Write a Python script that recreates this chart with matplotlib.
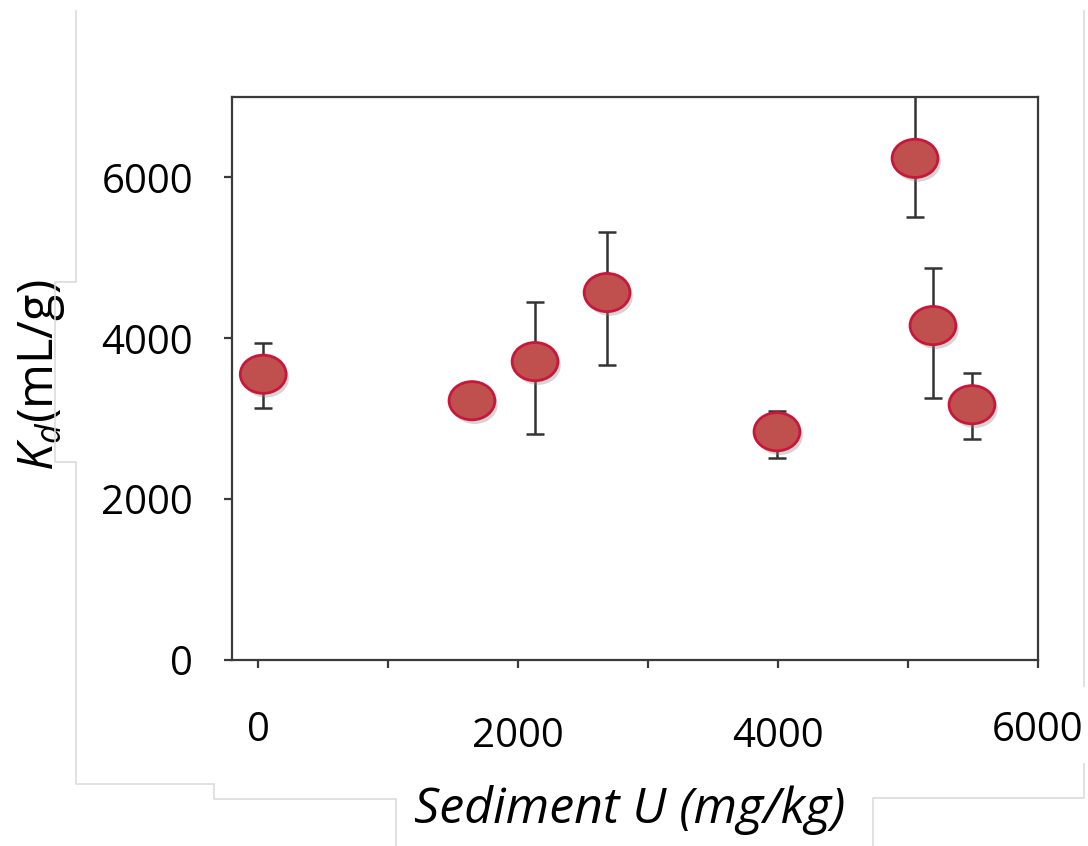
import matplotlib
matplotlib.use('Agg')
import matplotlib.pyplot as plt
import matplotlib.patheffects as pe
from matplotlib.path import Path
from matplotlib.lines import Line2D
import numpy as np

plt.rcParams['font.family'] = ['Open Sans', 'DejaVu Sans']
plt.rcParams['mathtext.fontset'] = 'custom'
plt.rcParams['mathtext.rm'] = 'Open Sans'
plt.rcParams['mathtext.it'] = 'Open Sans:italic'

# data
sediment_u = [40, 1646, 2131, 2685, 3992, 5054, 5192, 5492]
kd = [3553, 3224, 3710, 4569, 2838, 6237, 4158, 3174]
kd_upper = [3938, 3224, 4457, 5316, 3100, 7400, 4880, 3573]
kd_lower = [3130, 3224, 2813, 3672, 2515, 5502, 3262, 2751]

x_major = [0, 2000, 4000, 6000]
x_minor = [1000, 3000, 5000]
y_ticks = [0, 2000, 4000, 6000]

fig = plt.figure(figsize=(10.88, 8.46), dpi=100)
ax = fig.add_axes([232 / 1088, 1 - 660 / 846, 806 / 1088, 563 / 846])

err_lo = np.array(kd) - np.array(kd_lower)
err_hi = np.array(kd_upper) - np.array(kd)
ax.errorbar(sediment_u, kd, yerr=[err_lo, err_hi], fmt='none',
            ecolor='#333333', elinewidth=1.8, capsize=6.5, capthick=1.8, zorder=2)

# wide ellipse marker
circ = Path.unit_circle()
ell = Path(circ.vertices * np.array([1.2, 1.0]), circ.codes)
ax.plot(sediment_u, kd, linestyle='none', marker=ell, markersize=33,
        markerfacecolor='#c0504d', markeredgecolor='#c8173a', markeredgewidth=2,
        zorder=3,
        path_effects=[pe.SimplePatchShadow(offset=(2, -3), shadow_rgbFace='#888888', alpha=0.35),
                      pe.Normal()])

ax.set_xlim(-200, 6000)
ax.set_ylim(0, 7000)
ax.set_xticks(x_major)
ax.set_xticks(x_minor, minor=True)
ax.set_xticklabels([str(v) for v in x_major])
ax.set_yticks(y_ticks)
ax.set_yticklabels([str(v) for v in y_ticks])

for s in ax.spines.values():
    s.set_color('#3a3a3a')
    s.set_linewidth(1.6)

ax.tick_params(axis='both', which='both', direction='out', length=6, width=1.6,
               color='#3a3a3a', labelsize=29)
ax.tick_params(axis='x', which='major', pad=30)
ax.tick_params(axis='y', pad=22)
# labels in the original sit at slightly different heights
pads = [30, 35, 35, 30]
for t, p in zip(ax.xaxis.get_major_ticks(), pads):
    t.set_pad(p)

ax.set_xlabel('Sediment U (mg/kg)', fontsize=36, style='italic')
ax.xaxis.set_label_coords(0.494, -0.222)
ax.set_ylabel('$K_d$(mL/g)', fontsize=35)
ax.yaxis.set_label_coords(-0.205, 0.505)

# faint frame fragments around the figure
W, H = 1088, 846
frags = [
    [(76, 11), (76, 282), (55, 282), (55, 462), (76, 462), (76, 784), (214, 784),
     (214, 799), (396, 799), (396, 846)],
    [(1084, 11), (1084, 686)],
    [(1084, 764), (1084, 798), (873, 798), (873, 846)],
]
for f in frags:
    xs = [p[0] / W for p in f]
    ys = [1 - p[1] / H for p in f]
    fig.add_artist(Line2D(xs, ys, color='#d9d9d9', linewidth=1.1, transform=fig.transFigure))

fig.savefig('out.png', dpi=100)
